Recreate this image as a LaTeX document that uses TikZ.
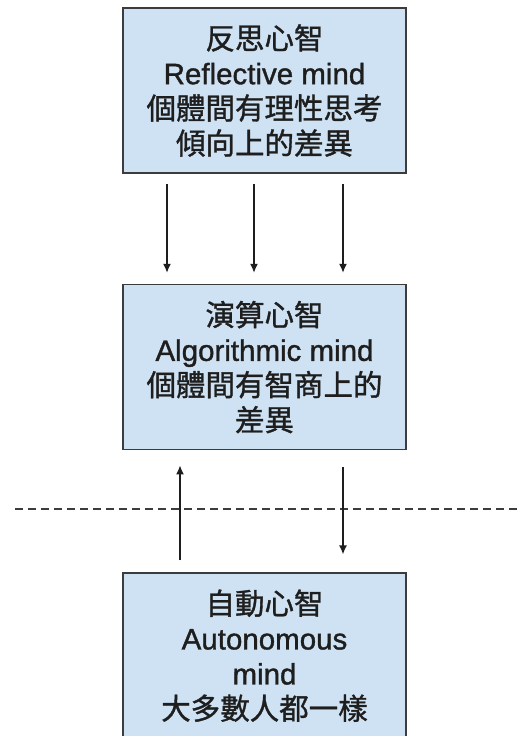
\documentclass[tikz,border=0pt]{standalone}
\usepackage{fontspec}
\setmainfont{Liberation Sans}[UprightFeatures={FakeBold=1.2}]
\newfontfamily\cjk{Noto Sans CJK TC}[UprightFeatures={FakeBold=1.2}]
\usepackage{tikz}
\usetikzlibrary{positioning, arrows.meta}
\definecolor{celeste}{RGB}{207, 226, 243}
\definecolor{borde}{RGB}{60, 60, 60}
\definecolor{tinta}{RGB}{30, 30, 30}
\tikzset{
    mind/.style={draw=borde, fill=celeste, line width=1.6pt, text=tinta, minimum width=283pt, minimum height=165pt, align=center, inner sep=0pt, font=\fontsize{29.5}{35}\selectfont},
    conn/.style={-{Latex[length=9pt, width=8pt]}, tinta, line width=1.4pt},
    sep/.style={dashed, dash pattern=on 8pt off 5pt, borde, line width=1.5pt},
}
\begin{document}
\begin{tikzpicture}
    \useasboundingbox (0,0) rectangle (517pt,-736pt);
    \node [mind] (refl) at (264.5pt,-90.5pt) {{\cjk 反思心智}\\Reflective mind\\{\cjk 個體間有理性思考}\\{\cjk 傾向上的差異}};
    \node [mind, below=110pt of refl] (algo) {{\cjk 演算心智}\\Algorithmic mind\\{\cjk 個體間有智商上的}\\{\cjk 差異}};
    \node [mind, below=122pt of algo] (auto) {{\cjk 自動心智}\\Autonomous\\mind\\{\cjk 大多數人都一樣}};

    \coordinate (dashL) at (15pt,-509pt);
    \coordinate (dashR) at (517pt,-509pt);
    \draw[sep] (dashL) -- (dashR);

    \draw[conn, shorten <=10pt, shorten >=11pt] ([xshift=-97.5pt]refl.south) -- ([xshift=-97.5pt]algo.north);
    \draw[conn, shorten <=10pt, shorten >=11pt] ([xshift=-10.5pt]refl.south) -- ([xshift=-10.5pt]algo.north);
    \draw[conn, shorten <=10pt, shorten >=11pt] ([xshift=78.5pt]refl.south) -- ([xshift=78.5pt]algo.north);
    \draw[conn, shorten <=12pt, shorten >=15pt] ([xshift=-84.5pt]auto.north) -- ([xshift=-84.5pt]algo.south);
    \draw[conn, shorten <=17pt, shorten >=18pt] ([xshift=78.5pt]algo.south) -- ([xshift=78.5pt]auto.north);
\end{tikzpicture}
\end{document}
